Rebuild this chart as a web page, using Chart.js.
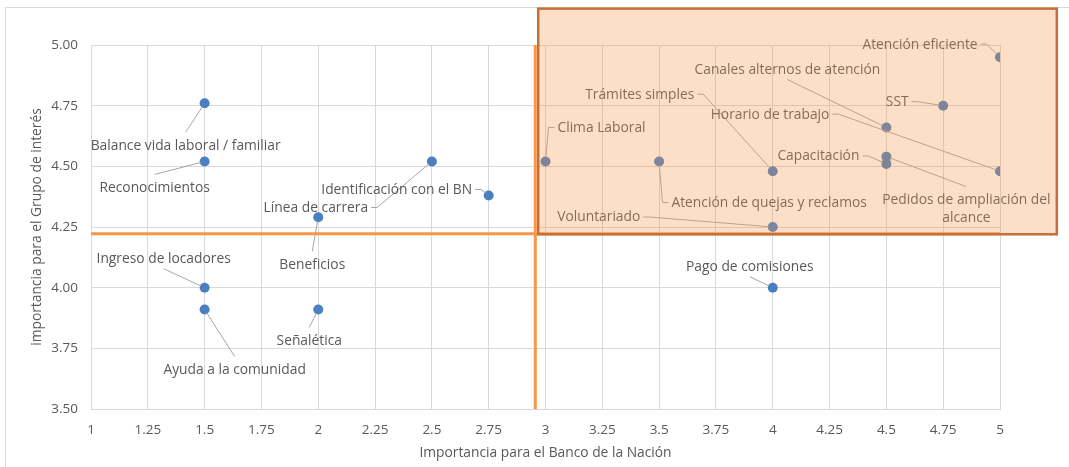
<!DOCTYPE html>
<html>
<head>
<meta charset="utf-8">
<script src="https://cdn.jsdelivr.net/npm/chart.js@4.4.1/dist/chart.umd.min.js"></script>
<style>
  html, body { margin: 0; padding: 0; background: #ffffff; overflow: hidden; }
  #wrap { width: 1069px; height: 467px; position: relative; }
</style>
</head>
<body>
<div id="wrap"><canvas id="c" width="1069" height="467"></canvas></div>
<script>
// Topics of the materiality matrix
const topics = [
  'Balance vida laboral / familiar',
  'Reconocimientos',
  'Ingreso de locadores',
  'Ayuda a la comunidad',
  'Beneficios',
  'Señalética',
  'Línea de carrera',
  'Identificación con el BN',
  'Clima Laboral',
  'Atención de quejas y reclamos',
  'Trámites simples',
  'Voluntariado',
  'Pago de comisiones',
  'Canales alternos de atención',
  'Capacitación',
  'Pedidos de ampliación del\nalcance',
  'SST',
  'Atención eficiente',
  'Horario de trabajo'
];
// Importance for the bank (x) and for the stakeholder group (y)
const importanciaBanco = [1.5, 1.5, 1.5, 1.5, 2, 2, 2.5, 2.75, 3, 3.5, 4, 4, 4, 4.5, 4.5, 4.5, 4.75, 5, 5];
const importanciaGrupo = [4.76, 4.52, 4.00, 3.91, 4.29, 3.91, 4.52, 4.38, 4.52, 4.52, 4.48, 4.25, 4.00, 4.66, 4.51, 4.54, 4.75, 4.95, 4.48];

// Axis ticks
const xTickLabels = ['1', '1.25', '1.5', '1.75', '2', '2.25', '2.5', '2.75', '3', '3.25', '3.5', '3.75', '4', '4.25', '4.5', '4.75', '5'];
const yTickLabels = ['3.50', '3.75', '4.00', '4.25', '4.50', '4.75', '5.00'];

// Quadrant dividers and the priority zone
const corteBanco = [2.955];
const corteGrupo = [4.222];
const zonaBanco = [2.968, 5.25];
const zonaGrupo = [4.22, 5.15];

// Label placement: offset of the label centre from its point, and the side the leader leaves from
const labelOffsets = [
  [-19, 42], [-50, 26], [-41, -29], [30, 60], [-6, 47], [-9, 31],
  [-116, 46], [-92, -6], [56, -34], [110, 41], [-133, -77], [-174, -10],
  [-23, -21], [-99, -58], [-68, -8], [80, 52], [-46, -4], [-80, -13], [-230, -57]
];
const labelSides = ['t', 't', 'b', 't', 't', 't', 'r', 'r', 'l', 'l', 'r', 'r', 'b', 'b', 'r', 't', 'r', 'r', 'r'];

const FONT = '"Open Sans", Lato, sans-serif';
const FONT_SIZE = 13.8;
const TEXT = '#595959';

const points = importanciaBanco.map((v, i) => ({ x: v, y: importanciaGrupo[i] }));

const frame = {
  id: 'frame',
  beforeDraw(chart) {
    const ctx = chart.ctx;
    ctx.save();
    ctx.strokeStyle = '#d9d9d9';
    ctx.lineWidth = 1;
    ctx.strokeRect(5.5, 7.5, 1200, 600);
    ctx.restore();
  }
};

const quadrants = {
  id: 'quadrants',
  beforeDatasetsDraw(chart) {
    const { ctx, chartArea: a, scales: { x, y } } = chart;
    ctx.save();
    ctx.strokeStyle = '#f79646';
    ctx.lineWidth = 3;
    const vx = x.getPixelForValue(corteBanco[0]);
    ctx.beginPath(); ctx.moveTo(vx, a.top); ctx.lineTo(vx, a.bottom); ctx.stroke();
    const hy = y.getPixelForValue(corteGrupo[0]);
    ctx.beginPath(); ctx.moveTo(a.left, hy); ctx.lineTo(a.right, hy); ctx.stroke();
    ctx.restore();
  },
  afterDatasetsDraw(chart) {
    const { ctx, scales: { x, y } } = chart;
    const meta = chart.getDatasetMeta(0);
    const lineH = 18;
    ctx.save();
    ctx.font = FONT_SIZE + 'px ' + FONT;
    meta.data.forEach((el, i) => {
      const px = el.x, py = el.y;
      const lines = topics[i].split('\n');
      const w = Math.max(...lines.map(l => ctx.measureText(l).width));
      const h = lines.length * lineH;
      const cx = px + labelOffsets[i][0];
      const cy = py + labelOffsets[i][1];
      const left = cx - w / 2 - 3, right = cx + w / 2 + 3;
      const top = cy - h / 2 - 4, bottom = cy + h / 2 + 1;
      // leader line
      let path;
      const side = labelSides[i];
      if (side === 'r') path = [[right, cy], [right + 6, cy]];
      else if (side === 'l') path = [[left, cy], [left - 6, cy]];
      else if (side === 't') path = [[cx, top]];
      else path = [[cx, bottom]];
      const last = path[path.length - 1];
      const dx = px - last[0], dy = py - last[1];
      const d = Math.hypot(dx, dy) || 1;
      const r = 4;
      const end = [px - dx / d * r, py - dy / d * r];
      ctx.strokeStyle = '#a6a6a6';
      ctx.lineWidth = 1;
      ctx.beginPath();
      ctx.moveTo(path[0][0], path[0][1]);
      for (let k = 1; k < path.length; k++) ctx.lineTo(path[k][0], path[k][1]);
      ctx.lineTo(end[0], end[1]);
      ctx.stroke();
      // label text
      ctx.fillStyle = TEXT;
      ctx.textAlign = 'center';
      ctx.textBaseline = 'middle';
      lines.forEach((l, k) => {
        ctx.fillText(l, cx, cy - h / 2 + lineH / 2 + k * lineH + 0.5);
      });
    });
    // priority zone
    const x0 = x.getPixelForValue(zonaBanco[0]), x1 = x.getPixelForValue(zonaBanco[1]);
    const y0 = y.getPixelForValue(zonaGrupo[1]), y1 = y.getPixelForValue(zonaGrupo[0]);
    ctx.fillStyle = 'rgba(247, 150, 70, 0.3)';
    ctx.fillRect(x0, y0, x1 - x0, y1 - y0);
    ctx.strokeStyle = '#c5703a';
    ctx.lineWidth = 2.5;
    ctx.strokeRect(x0, y0, x1 - x0, y1 - y0);
    ctx.restore();
  }
};

new Chart(document.getElementById('c'), {
  type: 'scatter',
  data: {
    datasets: [{
      data: points,
      backgroundColor: '#4a7fc1',
      borderColor: '#4a7fc1',
      pointRadius: 5,
      pointHoverRadius: 5,
      borderWidth: 0
    }]
  },
  options: {
    responsive: false,
    animation: false,
    devicePixelRatio: 1,
    layout: { padding: { top: 45, right: 69, bottom: 0, left: 0 } },
    plugins: { legend: { display: false }, tooltip: { enabled: false } },
    scales: {
      x: {
        type: 'linear',
        min: 1, max: 5,
        afterFit(scale) { scale.height = 58; },
        grid: { color: '#d9d9d9', drawTicks: false },
        border: { color: '#d9d9d9' },
        ticks: {
          stepSize: 0.25,
          autoSkip: false,
          maxRotation: 0,
          padding: 13,
          color: TEXT,
          font: { family: FONT, size: 13.5 },
          callback: (v) => xTickLabels[Math.round((v - 1) / 0.25)] ?? ''
        },
        title: {
          display: true,
          text: 'Importancia para el Banco de la Nación',
          color: TEXT,
          font: { family: FONT, size: FONT_SIZE },
          padding: { top: 0, bottom: 6 }
        }
      },
      y: {
        type: 'linear',
        min: 3.5, max: 5,
        afterFit(scale) { scale.width = 91; },
        grid: { color: '#d9d9d9', drawTicks: false },
        border: { color: '#d9d9d9' },
        ticks: {
          stepSize: 0.25,
          autoSkip: false,
          padding: 13,
          color: TEXT,
          font: { family: FONT, size: 13.5 },
          callback: (v) => yTickLabels[Math.round((v - 3.5) / 0.25)] ?? ''
        },
        title: {
          display: true,
          text: 'importancia para el Grupo de interés',
          color: TEXT,
          font: { family: FONT, size: FONT_SIZE },
          padding: { top: 29, bottom: 0 }
        }
      }
    }
  },
  plugins: [frame, quadrants]
});
</script>
</body>
</html>
